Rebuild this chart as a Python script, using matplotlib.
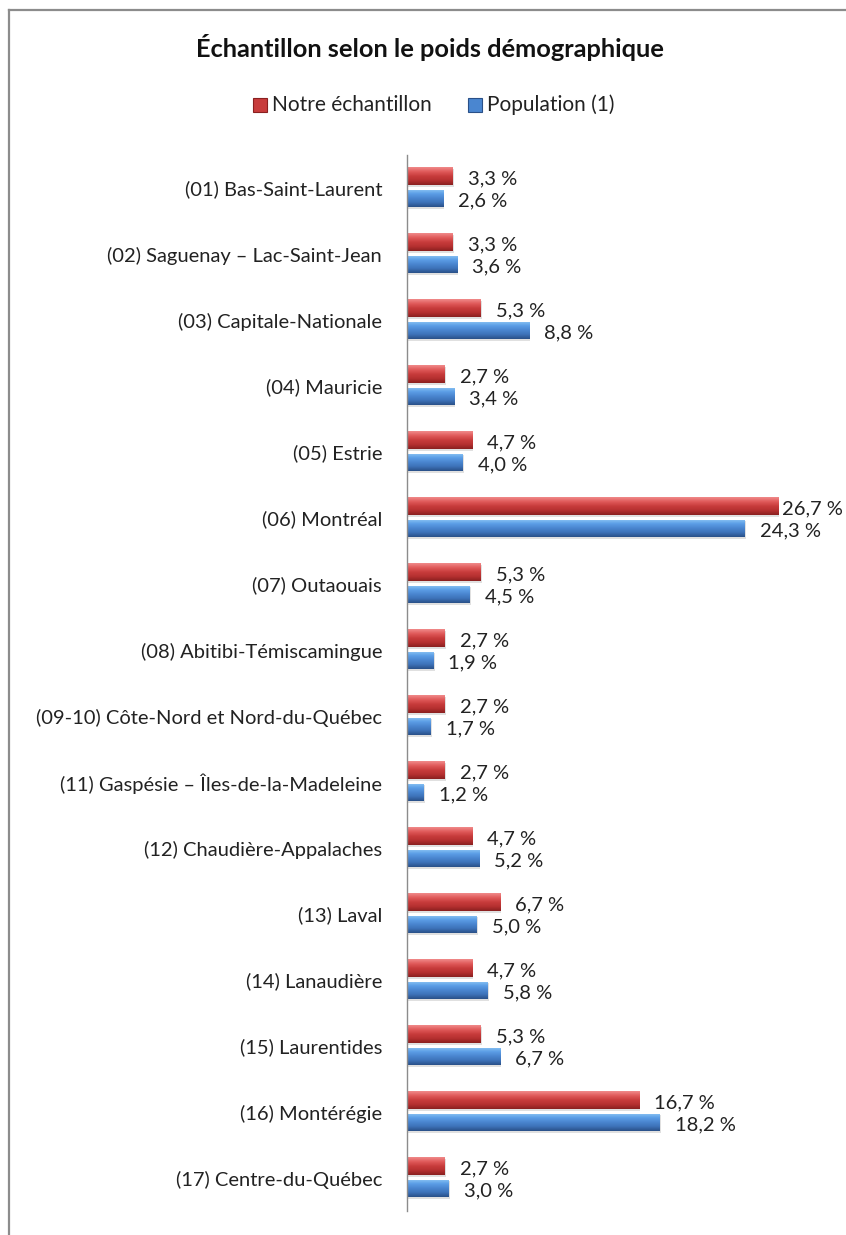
import matplotlib
matplotlib.use("Agg")
import numpy as np
import matplotlib.pyplot as plt
from matplotlib.patches import Rectangle
from matplotlib.lines import Line2D
from matplotlib.colors import LinearSegmentedColormap

plt.rcParams['font.family'] = ['Lato', 'DejaVu Sans']

categories = [
    "(01) Bas-Saint-Laurent",
    "(02) Saguenay – Lac-Saint-Jean",
    "(03) Capitale-Nationale",
    "(04) Mauricie",
    "(05) Estrie",
    "(06) Montréal",
    "(07) Outaouais",
    "(08) Abitibi-Témiscamingue",
    "(09-10) Côte-Nord et Nord-du-Québec",
    "(11) Gaspésie – Îles-de-la-Madeleine",
    "(12) Chaudière-Appalaches",
    "(13) Laval",
    "(14) Lanaudière",
    "(15) Laurentides",
    "(16) Montérégie",
    "(17) Centre-du-Québec",
]
echantillon = [3.3, 3.3, 5.3, 2.7, 4.7, 26.7, 5.3, 2.7, 2.7, 2.7, 4.7, 6.7, 4.7, 5.3, 16.7, 2.7]
population = [2.6, 3.6, 8.8, 3.4, 4.0, 24.3, 4.5, 1.9, 1.7, 1.2, 5.2, 5.0, 5.8, 6.7, 18.2, 3.0]
series_names = ["Notre échantillon", "Population (1)"]

W, H = 846, 1235
fig = plt.figure(figsize=(W / 100, H / 100), dpi=100)
fig.patch.set_facecolor("white")

# outer frame (left and top edges visible)
fig.add_artist(Line2D([8.5 / W, 8.5 / W], [0, 1 - 10 / H], transform=fig.transFigure, color="#8c8c8c", lw=1.6))
fig.add_artist(Line2D([8.5 / W, 1], [1 - 10 / H, 1 - 10 / H], transform=fig.transFigure, color="#8c8c8c", lw=1.6))

ax_left, ax_top, ax_bot = 407 / W, 1 - 155 / H, 1 - 1211 / H
ax = fig.add_axes([ax_left, ax_bot, 1 - ax_left, ax_top - ax_bot])
px_per_unit = 13.9
xmax = (W - 407) / px_per_unit
n = len(categories)

bh = 0.27
off_red, off_blue = -0.18, 0.16

red_cmap = LinearSegmentedColormap.from_list("r", ["#f08a8a", "#e05a5a", "#c83c3c", "#b53030", "#8a2020"])
blue_cmap = LinearSegmentedColormap.from_list("b", ["#8cc4f4", "#5c9ee6", "#4a86d0", "#3d72b8", "#2a5088"])
red_base, blue_base = "#c83c3c", "#4a86d0"
grad = np.linspace(0, 1, 64).reshape(-1, 1)

def bevel_bar(y, val, cmap, base):
    bars = ax.barh(y, val, height=bh, color=base, linewidth=0, zorder=2)
    r = bars[0]
    x0, y0, w, h = r.get_x(), r.get_y(), r.get_width(), r.get_height()
    im = ax.imshow(grad, cmap=cmap, aspect="auto", extent=(x0, x0 + w, y0 + h, y0),
                   interpolation="bilinear", zorder=2.5)
    im.set_clip_path(r)
    ax.barh(y + 0.025, val, height=bh, left=0.08, color="#000000", alpha=0.12, linewidth=0, zorder=1.5)

for i in range(n):
    for val, off, cmap, base in ((echantillon[i], off_red, red_cmap, red_base),
                                 (population[i], off_blue, blue_cmap, blue_base)):
        y = i + off
        bevel_bar(y, val, cmap, base)
        txt = f"{val:.1f}".replace(".", ",") + " %"
        pad = 15 / px_per_unit
        if val + pad + 58 / px_per_unit > xmax:
            pad = 4 / px_per_unit
        ax.text(val + pad, y + 0.04, txt, ha="left", va="center", fontsize=14.5, color="#222222", zorder=4)

ax.set_xlim(0, xmax)
ax.set_ylim(n - 0.5, -0.5)
ax.set_yticks(range(n))
ax.set_yticklabels(categories, fontsize=14.5, color="#222222")
ax.tick_params(axis="y", length=0, pad=18)
ax.set_xticks([])
for s in ("top", "right", "bottom"):
    ax.spines[s].set_visible(False)
ax.spines["left"].set_color("#8c8c8c")
ax.spines["left"].set_linewidth(1.0)
ax.patch.set_alpha(0)

fig.text(430 / W, 1 - 57 / H, "Échantillon selon le poids démographique",
         ha="center", va="baseline", fontsize=18.3, fontweight="bold", color="#111111")

# legend
ly = 1 - 105 / H
fig.add_artist(Rectangle((253 / W, ly - 7 / H), 14 / W, 14 / H, transform=fig.transFigure,
                         facecolor=red_base, edgecolor="#8a2020", lw=0.8))
fig.text(272 / W, ly, series_names[0], ha="left", va="center", fontsize=15, color="#222222")
fig.add_artist(Rectangle((468 / W, ly - 7 / H), 14 / W, 14 / H, transform=fig.transFigure,
                         facecolor=blue_base, edgecolor="#2a5088", lw=0.8))
fig.text(487 / W, ly, series_names[1], ha="left", va="center", fontsize=15, color="#222222")

fig.savefig("out.png", dpi=100)
